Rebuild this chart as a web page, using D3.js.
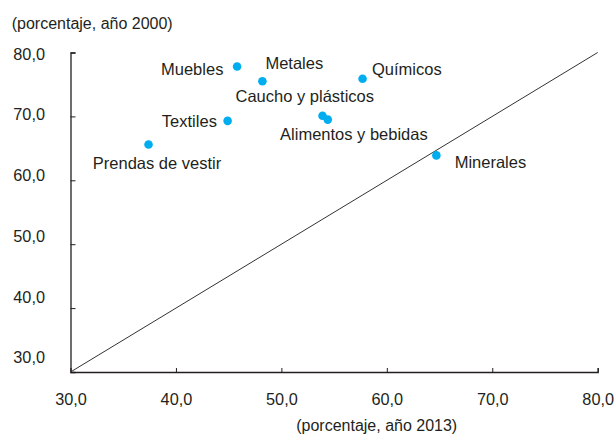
<!DOCTYPE html>
<html>
<head>
<meta charset="utf-8">
<script src="https://cdn.jsdelivr.net/npm/d3@7"></script>
<style>
  html, body { margin: 0; padding: 0; background: #fff; }
  svg { display: block; font-family: "Liberation Sans", Arial, Helvetica, sans-serif; }
</style>
</head>
<body>
<svg id="chart" width="615" height="434"></svg>
<script>
// ---- data ----
const sectors = ["Muebles", "Metales", "Químicos", "Caucho y plásticos", "Alimentos y bebidas", "Textiles", "Prendas de vestir", "Minerales"];
const share2013 = [45.8, 48.2, 57.7, 53.9, 54.4, 44.9, 37.4, 64.7];
const share2000 = [77.8, 75.5, 75.9, 70.1, 69.5, 69.3, 65.6, 63.9];
const xTicks = [30, 40, 50, 60, 70, 80];
const yTicks = [30, 40, 50, 60, 70, 80];
const xTitle = "(porcentaje, año 2013)";
const yTitle = "(porcentaje, año 2000)";

// label placement (px offsets from point)
const labelPos = [
  {dx: -13.7, dy: 8.6, anchor: "end"},
  {dx: 3, dy: -12, anchor: "start"},
  {dx: 9.4, dy: -3.5, anchor: "start"},
  {dx: -87, dy: -14.2, anchor: "start"},
  {dx: -47.7, dy: 20.7, anchor: "start"},
  {dx: -10.7, dy: 6, anchor: "end"},
  {dx: -55.7, dy: 24.5, anchor: "start"},
  {dx: 18.3, dy: 12.5, anchor: "start"}
];

const fmt = d => d3.format(".1f")(d).replace(".", ",");
const ink = "#231f20";
const dotColor = "#00aeef";

const svg = d3.select("#chart");
const x = d3.scaleLinear().domain([30, 80]).range([70.5, 597.7]);
const y = d3.scaleLinear().domain([30, 80]).range([372, 52.5]);
// tick labels on the y side sit on a slightly compressed spacing in the original
const yLab = d3.scaleLinear().domain([30, 80]).range([357, 53.3]);

// x axis
const gx = svg.append("g").attr("transform", `translate(0,${y(30)})`)
  .call(d3.axisBottom(x).tickValues(xTicks).tickFormat(fmt).tickSizeInner(-4).tickSizeOuter(-4).tickPadding(21));
gx.select(".domain").attr("stroke", ink).attr("stroke-width", 1.3);
gx.selectAll(".tick line").attr("stroke", ink).attr("stroke-width", 1);
gx.selectAll(".tick").filter(d => d === 30).select("line").remove();
gx.selectAll("text").attr("font-size", 16.3).attr("fill", ink).attr("font-family", null);

// y axis line + ticks
const gy = svg.append("g").attr("transform", `translate(${x(30)},0)`)
  .call(d3.axisLeft(y).tickValues(yTicks).tickFormat("").tickSizeInner(-5).tickSizeOuter(-5));
gy.select(".domain").attr("stroke", ink).attr("stroke-width", 1.3);
gy.selectAll(".tick line").attr("stroke", ink).attr("stroke-width", 1);
gy.selectAll(".tick").filter(d => d === 30).select("line").remove();

// y tick labels
const gyl = svg.append("g").attr("transform", `translate(${x(30)},0)`)
  .call(d3.axisLeft(yLab).tickValues(yTicks).tickFormat(fmt).tickSize(0).tickPadding(25.5));
gyl.select(".domain").remove();
gyl.selectAll("text").attr("font-size", 16.3).attr("fill", ink).attr("font-family", null).attr("dy", "0.36em");

// diagonal 45° line
svg.append("line")
  .attr("x1", x(30)).attr("y1", y(30))
  .attr("x2", x(80)).attr("y2", y(80))
  .attr("stroke", "#333").attr("stroke-width", 1);

// axis titles
svg.append("text").attr("x", 11.7).attr("y", 28.8)
  .attr("font-size", 16).attr("fill", ink).text(yTitle);
svg.append("text").attr("x", 376.7).attr("y", 431).attr("text-anchor", "middle")
  .attr("font-size", 16).attr("fill", ink).text(xTitle);

// points
const pts = sectors.map((s, i) => ({name: s, x: share2013[i], y: share2000[i], lp: labelPos[i]}));
svg.append("g").selectAll("circle").data(pts).join("circle")
  .attr("cx", d => x(d.x)).attr("cy", d => y(d.y)).attr("r", 4.3)
  .attr("fill", dotColor);

svg.append("g").selectAll("text").data(pts).join("text")
  .attr("x", d => x(d.x) + d.lp.dx).attr("y", d => y(d.y) + d.lp.dy)
  .attr("text-anchor", d => d.lp.anchor)
  .attr("font-size", 16.5).attr("fill", ink)
  .text(d => d.name);
</script>
</body>
</html>
